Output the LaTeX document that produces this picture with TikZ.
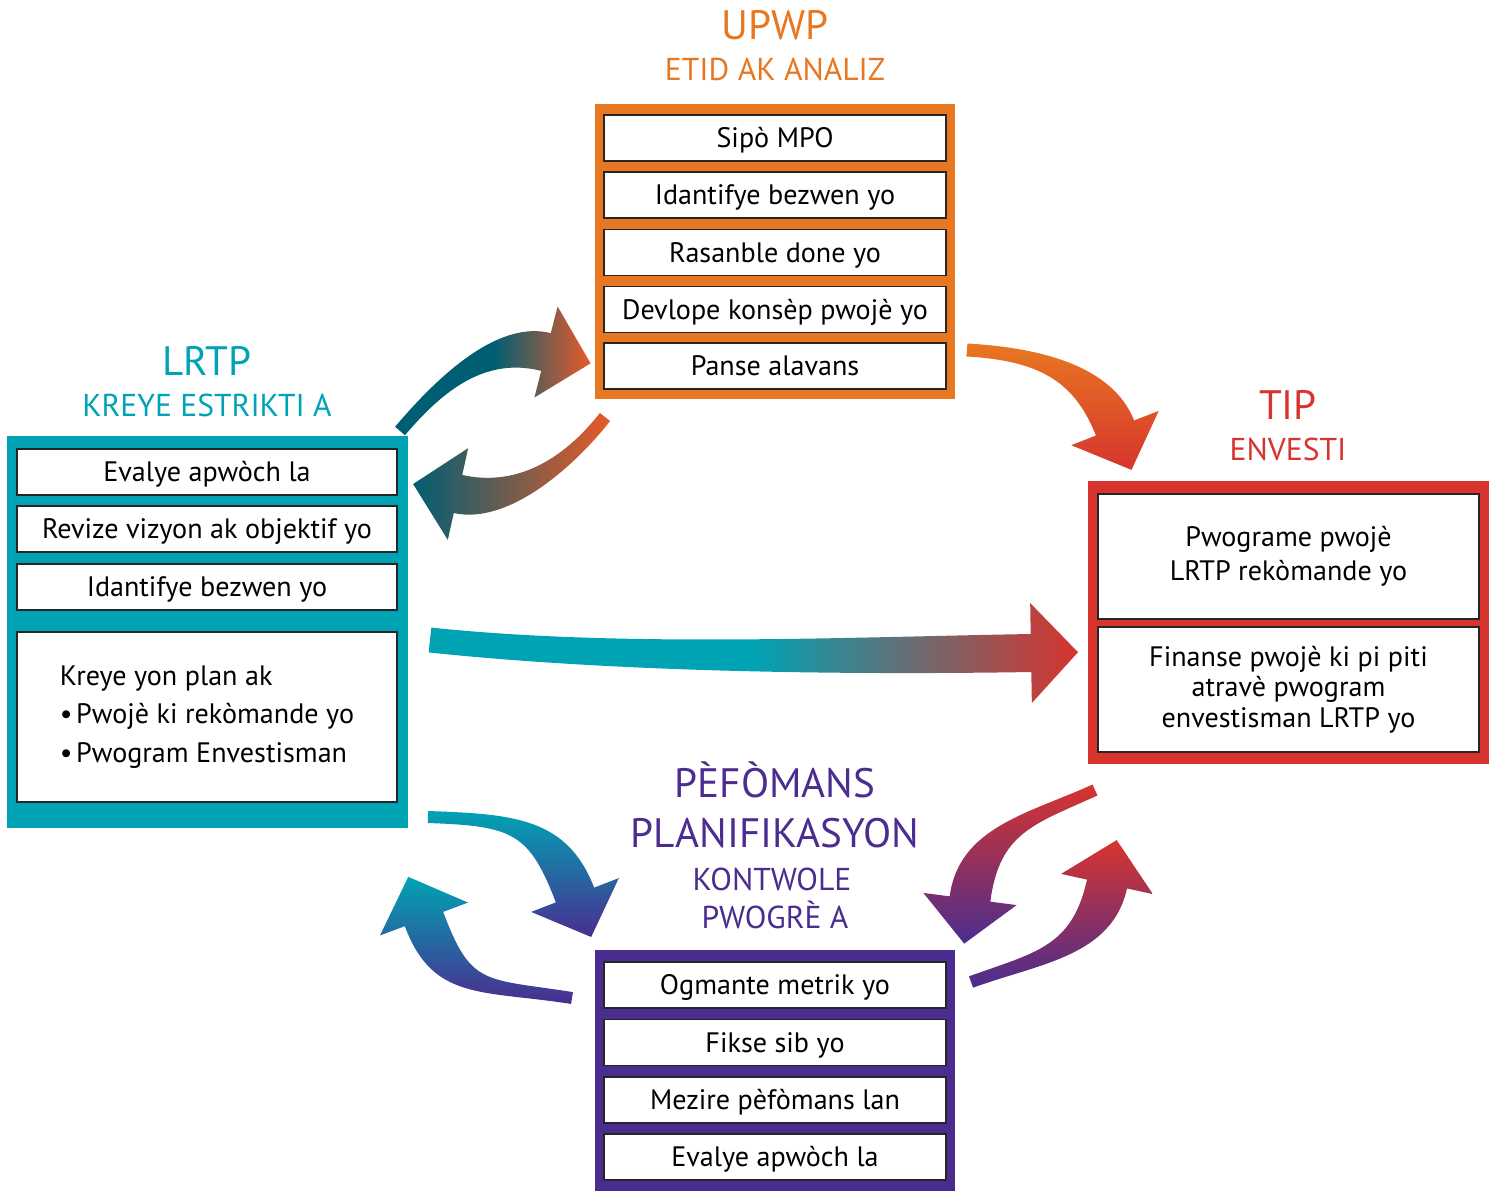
\documentclass[tikz,border=0pt]{standalone}
\usepackage{fontspec}
\setmainfont{PT Sans}
\usepackage{xcolor}
\usetikzlibrary{calc}

\definecolor{cupwp}{HTML}{E87722}
\definecolor{clrtp}{HTML}{00A3B4}
\definecolor{ctip}{HTML}{D7342E}
\definecolor{cpef}{HTML}{4B2D8F}
\definecolor{cdeep}{HTML}{005E72}
\definecolor{cflame}{HTML}{E85A2A}

% thick curved arrow: tail, control 1, control 2, head base,
% half width at tail, half width at head, barb half width, head length, shading
\newcommand\bigarrow[9]{%
  \path ($(#1)!#5!90:(#2)$) coordinate (ba-sl)
        ($(#1)!#5!-90:(#2)$) coordinate (ba-sr)
        ($(#4)!#6!-90:(#3)$) coordinate (ba-bl)
        ($(#4)!#6!90:(#3)$) coordinate (ba-br)
        ($(#4)!#7!-90:(#3)$) coordinate (ba-hl)
        ($(#4)!#7!90:(#3)$) coordinate (ba-hr)
        ($(#4)!#8!180:(#3)$) coordinate (ba-tip);
  \shade[#9] (ba-sl) .. controls ($(#2)+(ba-sl)-(#1)$) and ($(#3)+(ba-bl)-(#4)$) .. (ba-bl)
    -- (ba-hl) -- (ba-tip) -- (ba-hr) -- (ba-br)
    .. controls ($(#3)+(ba-br)-(#4)$) and ($(#2)+(ba-sr)-(#1)$) .. (ba-sr) -- cycle;
}

\begin{document}
\begin{tikzpicture}[
  x=0.02cm, y=-0.02cm,
  panel/.style={fill=#1, inner sep=0pt},
  box/.style={draw=black!85, line width=0.8pt, fill=white, inner sep=0pt,
    font=\fontsize{16}{19}\selectfont},
  row/.style={box, minimum width=#1, minimum height=0.92cm,
    text height=11.2pt, text depth=0pt},
  grouptitle/.style={text=#1, anchor=base, font=\fontsize{23.4}{27}\selectfont},
  groupsub/.style={text=#1, anchor=base, font=\fontsize{18}{21}\selectfont}
]
  \useasboundingbox (0,0) rectangle (1497,1191);

  % UPWP
  \node[grouptitle=cupwp] (upwp-t) at (775,39) {UPWP};
  \node[groupsub=cupwp]   (upwp-s) at (775,80) {ETID AK ANALIZ};
  \node[panel=cupwp, minimum width=7.2cm, minimum height=5.9cm] (upwp) at (775,251.5) {};
  \node[row=6.84cm] (upwp1) at (775,138)   {Sipò MPO};
  \node[row=6.84cm] (upwp2) at (775,195)   {Idantifye bezwen yo};
  \node[row=6.84cm] (upwp3) at (775,252.5) {Rasanble done yo};
  \node[row=6.84cm] (upwp4) at (775,309.5) {Devlope konsèp pwojè yo};
  \node[row=6.84cm] (upwp5) at (775,366)   {Panse alavans};

  % LRTP
  \node[grouptitle=clrtp] (lrtp-t) at (207,375) {LRTP};
  \node[groupsub=clrtp]   (lrtp-s) at (207,416) {KREYE ESTRIKTI A};
  \node[panel=clrtp, minimum width=8.02cm, minimum height=7.84cm] (lrtp) at (207.5,632) {};
  \node[row=7.6cm] (lrtp1) at (207,472) {Evalye apwòch la};
  \node[row=7.6cm] (lrtp2) at (207,529) {Revize vizyon ak objektif yo};
  \node[row=7.6cm] (lrtp3) at (207,587) {Idantifye bezwen yo};
  \node[box, minimum width=7.6cm, minimum height=3.4cm, align=left,
    font=\fontsize{16}{22}\selectfont] (lrtp4) at (207,717)
    {Kreye yon plan ak\\ •\hspace{2pt}Pwojè ki rekòmande yo\\ •\hspace{2pt}Pwogram Envestisman};

  % TIP
  \node[grouptitle=ctip] (tip-t) at (1288,419) {TIP};
  \node[groupsub=ctip]   (tip-s) at (1288,460) {ENVESTI};
  \node[panel=ctip, minimum width=8.02cm, minimum height=5.66cm] (tip) at (1288.5,622.5) {};
  \node[box, minimum width=7.62cm, minimum height=2.5cm, align=center,
    font=\fontsize{16}{19.5}\selectfont] (tip1) at (1288.5,556.5)
    {Pwograme pwojè\\ LRTP rekòmande yo};
  \node[box, minimum width=7.62cm, minimum height=2.5cm, align=center,
    font=\fontsize{16}{17.5}\selectfont] (tip2) at (1288.5,689.5)
    {Finanse pwojè ki pi piti\\ atravè pwogram\\ envestisman LRTP yo};

  % PEFOMANS
  \node[grouptitle=cpef] (pef-t1) at (775,797) {PÈFÒMANS};
  \node[grouptitle=cpef] (pef-t2) at (775,847) {PLANIFIKASYON};
  \node[groupsub=cpef]   (pef-s1) at (772,890) {KONTWOLE};
  \node[groupsub=cpef]   (pef-s2) at (775,928) {PWOGRÈ A};
  \node[panel=cpef, minimum width=7.2cm, minimum height=4.82cm] (pef) at (775,1070.5) {};
  \node[row=6.84cm] (pef1) at (775,985)    {Ogmante metrik yo};
  \node[row=6.84cm] (pef2) at (775,1042.5) {Fikse sib yo};
  \node[row=6.84cm] (pef3) at (775,1100)   {Mezire pèfòmans lan};
  \node[row=6.84cm] (pef4) at (775,1157)   {Evalye apwòch la};

  % arrow ends
  \coordinate (lu-s) at (400,431);  \coordinate (lu-e) at (546,352);
  \coordinate (ul-s) at (605,417);  \coordinate (ul-e) at (458,494);
  \coordinate (ut-s) at (967,350);  \coordinate (ut-e) at (1115,428);
  \coordinate (lt-s) at (430,640);  \coordinate (lt-e) at (1031,653);
  \coordinate (lp-s) at (428,817);  \coordinate (lp-e) at (575,895);
  \coordinate (pl-s) at (572,998);  \coordinate (pl-e) at (424,919);
  \coordinate (tp-s) at (1095,790); \coordinate (tp-e) at (970,899);
  \coordinate (pt-s) at (971,982);  \coordinate (pt-e) at (1107,884);

  \bigarrow{lu-s}{439,385}{491,338}{lu-e}{0.13cm}{0.39cm}{0.94cm}{0.92cm}
    {left color=cdeep, right color=cflame, middle color=cdeep}
  \bigarrow{ul-s}{568,464}{512,506}{ul-e}{0.13cm}{0.39cm}{0.94cm}{0.92cm}
    {left color=cdeep, right color=cflame}
  \bigarrow{ut-s}{1037,354}{1093,372}{ut-e}{0.13cm}{0.41cm}{0.94cm}{0.9cm}
    {top color=cupwp, bottom color=ctip}
  \bigarrow{lt-s}{620,660}{850,656}{lt-e}{0.25cm}{0.38cm}{1.0cm}{0.94cm}
    {left color=clrtp, right color=ctip, middle color=clrtp}
  \bigarrow{lp-s}{513,820}{548,825}{lp-e}{0.12cm}{0.41cm}{0.94cm}{0.9cm}
    {top color=clrtp, bottom color=cpef}
  \bigarrow{pl-s}{483,984}{452,994}{pl-e}{0.12cm}{0.41cm}{0.94cm}{0.9cm}
    {top color=clrtp, bottom color=cpef}
  \bigarrow{tp-s}{1031,819}{979,830}{tp-e}{0.12cm}{0.41cm}{0.94cm}{0.9cm}
    {top color=ctip, bottom color=cpef}
  \bigarrow{pt-s}{1037,958}{1092,952}{pt-e}{0.12cm}{0.41cm}{0.94cm}{0.9cm}
    {top color=ctip, bottom color=cpef}
\end{tikzpicture}
\end{document}
